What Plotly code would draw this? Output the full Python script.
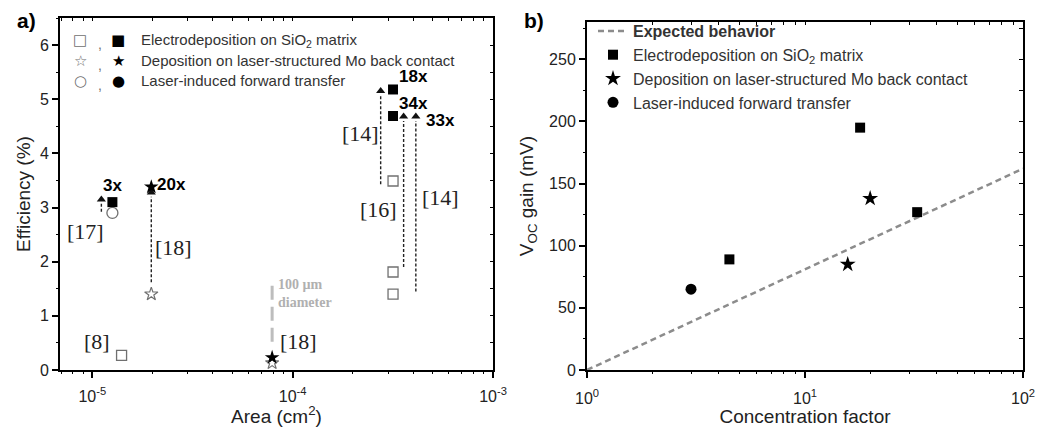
import plotly.graph_objects as go
import numpy as np

# ---------------- Panel a data ----------------
area_sq_filled = [1.26e-5, 3.17e-4, 3.17e-4]
eff_sq_filled = [3.10, 5.18, 4.69]
area_sq_open = [1.40e-5, 3.17e-4, 3.17e-4, 3.17e-4]
eff_sq_open = [0.27, 3.49, 1.81, 1.40]
area_star_filled = [1.97e-5, 7.9e-5]
eff_star_filled = [3.38, 0.23]
area_star_open = [1.97e-5, 7.9e-5]
eff_star_open = [1.40, 0.13]
area_circ_open = [1.26e-5]
eff_circ_open = [2.90]

arrow_x = [1.11e-5, 1.97e-5, 2.75e-4, 3.58e-4, 4.12e-4]
arrow_y0 = [2.92, 1.62, 3.43, 1.90, 1.45]
arrow_y1 = [3.15, 3.28, 5.15, 4.68, 4.68]

gain_labels = ["3x", "20x", "18x", "34x", "33x"]
gain_lab_x = [1.26e-5, 2.05e-5, 3.3e-4, 3.3e-4, 4.55e-4]
gain_lab_y = [3.40, 3.42, 5.42, 4.93, 4.60]
gain_lab_anchor = ["center", "left", "left", "left", "left"]

ref_labels = ["[17]", "[18]", "[8]", "[18]", "[14]", "[16]", "[14]"]
ref_x = [9.2e-6, 2.54e-5, 1.06e-5, 1.07e-4, 2.19e-4, 2.69e-4, 5.5e-4]
ref_y = [2.55, 2.27, 0.52, 0.52, 4.37, 2.97, 3.19]

spot_x = [7.9e-5, 7.9e-5]
spot_y = [0.52, 1.66]

xa_ticks = [1e-5, 1e-4, 1e-3]
xa_ticktext = ["10<sup>-5</sup>", "10<sup>-4</sup>", "10<sup>-3</sup>"]

# ---------------- Panel b data ----------------
expected_c = [1, 100]
expected_gain = [0, 162]
conc_sq = [4.5, 17.9, 32.7]
gain_sq = [89, 195, 127]
conc_star = [15.7, 19.9]
gain_star = [85, 138]
conc_circ = [3.0]
gain_circ = [65]

xb_ticks = [1, 10, 100]
xb_ticktext = ["10<sup>0</sup>", "10<sup>1</sup>", "10<sup>2</sup>"]

# ---------------- figure ----------------
# page body has an 8px default margin: figure drawn at (8, 8)
OFF = 8
W, H = 1050 - OFF, 427 - OFF
def px(x):
    return (x - OFF) / W
def py(y):
    return 1 - (y - OFF) / H

SANS = "Liberation Sans, Arial, sans-serif"
SERIF = "Liberation Serif, Times New Roman, serif"
GRAY = "#707070"

fig = go.Figure()

# panel a traces
fig.add_trace(go.Scatter(x=area_sq_open, y=eff_sq_open, mode="markers", xaxis="x", yaxis="y",
                         marker=dict(symbol="square-open", size=10, color=GRAY, line=dict(width=1.3)),
                         showlegend=False))
fig.add_trace(go.Scatter(x=area_star_open, y=eff_star_open, mode="markers", xaxis="x", yaxis="y",
                         marker=dict(symbol="star-open", size=10, color=GRAY, line=dict(width=1.2)),
                         showlegend=False))
fig.add_trace(go.Scatter(x=area_circ_open, y=eff_circ_open, mode="markers", xaxis="x", yaxis="y",
                         marker=dict(symbol="circle-open", size=11, color=GRAY, line=dict(width=1.3)),
                         showlegend=False))
fig.add_trace(go.Scatter(x=spot_x, y=spot_y, mode="lines", xaxis="x", yaxis="y",
                         line=dict(color="#bdbdbd", width=3, dash="14px,7px"), showlegend=False))
for xv, y0, y1 in zip(arrow_x, arrow_y0, arrow_y1):
    fig.add_trace(go.Scatter(x=[xv, xv], y=[y0, y1 - 0.08], mode="lines", xaxis="x", yaxis="y",
                             line=dict(color="#222", width=1.4, dash="3px,2px"), showlegend=False))
    fig.add_trace(go.Scatter(x=[xv], y=[y1], mode="markers", xaxis="x", yaxis="y",
                             marker=dict(symbol="triangle-up", size=8, color="#111"), showlegend=False))
fig.add_trace(go.Scatter(x=area_sq_filled, y=eff_sq_filled, mode="markers", xaxis="x", yaxis="y",
                         marker=dict(symbol="square", size=10, color="black"), showlegend=False))
fig.add_trace(go.Scatter(x=area_star_filled, y=eff_star_filled, mode="markers", xaxis="x", yaxis="y",
                         marker=dict(symbol="star", size=11, color="black"), showlegend=False))

# panel b traces
fig.add_trace(go.Scatter(x=expected_c, y=expected_gain, mode="lines", xaxis="x2", yaxis="y2",
                         name="<b>Expected behavior</b>", legendgroup="a",
                         line=dict(color="#8c8c8c", width=2.5, dash="6px,4px")))
fig.add_trace(go.Scatter(x=conc_sq, y=gain_sq, mode="markers", xaxis="x2", yaxis="y2",
                         name="Electrodeposition on SiO<sub>2</sub> matrix", legendgroup="b",
                         marker=dict(symbol="square", size=10, color="black")))
fig.add_trace(go.Scatter(x=conc_star, y=gain_star, mode="markers", xaxis="x2", yaxis="y2",
                         name="Deposition on laser-structured Mo back contact", legendgroup="c",
                         marker=dict(symbol="star", size=12, color="black")))
fig.add_trace(go.Scatter(x=conc_circ, y=gain_circ, mode="markers", xaxis="x2", yaxis="y2",
                         name="Laser-induced forward transfer", legendgroup="d",
                         marker=dict(symbol="circle", size=11, color="black")))

dom_ax = [px(60), px(493)]
dom_ay = [py(370), py(18)]
dom_bx = [px(587), px(1023)]
dom_by = [py(370), py(22)]

xa_range = [np.log10(6.9e-6), -3]
ya_range = [0, 6.5]
xb_range = [0, 2]
yb_range = [0, 280]

def log_minor(lo, hi):
    return [m * 10.0 ** d for d in range(lo, hi) for m in range(2, 10)]
def log_all(lo, hi):
    return [m * 10.0 ** d for d in range(lo, hi) for m in range(1, 10)] + [10.0 ** hi]

tickfont = dict(family=SANS, size=16, color="#222")
titlefont = dict(family=SANS, size=19, color="#222")
axline = dict(showline=True, linecolor="black", linewidth=2, showgrid=False, zeroline=False,
              mirror=True, automargin=False)
bare = dict(showline=False, showgrid=False, zeroline=False, showticklabels=False,
            automargin=False, tickcolor="black", tickmode="array")

fig.update_layout(
    width=W, height=H, margin=dict(l=0, r=0, t=0, b=0, autoexpand=False),
    paper_bgcolor="white", plot_bgcolor="white",
    font=dict(family=SANS, color="#222"),
    xaxis=dict(domain=dom_ax, anchor="y", type="log", range=xa_range,
               tickmode="array", tickvals=xa_ticks, ticktext=xa_ticktext, ticks="outside",
               ticklen=6, tickwidth=1.6, tickcolor="black", tickfont=tickfont, ticklabelstandoff=5,
               title=dict(text="Area (cm<sup>2</sup>)", font=titlefont, standoff=2),
               **axline),
    yaxis=dict(domain=dom_ay, anchor="x", range=ya_range, dtick=1, ticks="outside",
               ticklen=6, tickwidth=1.6, tickcolor="black", tickfont=tickfont,
               title=dict(text="Efficiency (%)", font=titlefont, standoff=4),
               **axline),
    xaxis2=dict(domain=dom_bx, anchor="y2", type="log", range=xb_range,
                tickmode="array", tickvals=xb_ticks, ticktext=xb_ticktext, ticks="outside",
                ticklen=6, tickwidth=1.6, tickcolor="black", tickfont=tickfont, ticklabelstandoff=7,
                title=dict(text="Concentration factor", font=titlefont, standoff=4),
                **axline),
    yaxis2=dict(domain=dom_by, anchor="x2", range=yb_range, dtick=50, ticks="outside",
                ticklen=6, tickwidth=1.6, tickcolor="black", tickfont=tickfont,
                title=dict(text="V<sub>OC</sub> gain (mV)", font=titlefont, standoff=10),
                **axline),
    # minor outside ticks (bottom/left) and inward mirrored ticks (top/right)
    xaxis3=dict(overlaying="x", anchor="y", side="bottom", type="log", range=xa_range,
                tickvals=log_minor(-6, -3), ticks="outside", ticklen=3, tickwidth=1.2, **bare),
    yaxis3=dict(overlaying="y", anchor="x", side="left", range=ya_range,
                tickvals=[0.5 + i for i in range(7)], ticks="outside", ticklen=3, tickwidth=1.2, **bare),
    xaxis5=dict(overlaying="x", anchor="y", side="top", type="log", range=xa_range,
                tickvals=log_all(-6, -3), ticks="inside", ticklen=3, tickwidth=1.2, **bare),
    yaxis5=dict(overlaying="y", anchor="x", side="right", range=ya_range,
                tickvals=[0.5 * i for i in range(14)], ticks="inside", ticklen=3, tickwidth=1.2, **bare),
    xaxis4=dict(overlaying="x2", anchor="y2", side="bottom", type="log", range=xb_range,
                tickvals=log_minor(0, 2), ticks="outside", ticklen=3, tickwidth=1.2, **bare),
    yaxis4=dict(overlaying="y2", anchor="x2", side="left", range=yb_range,
                tickvals=[25 + 50 * i for i in range(6)], ticks="outside", ticklen=3, tickwidth=1.2, **bare),
    xaxis6=dict(overlaying="x2", anchor="y2", side="top", type="log", range=xb_range,
                tickvals=log_all(0, 2), ticks="inside", ticklen=3, tickwidth=1.2, **bare),
    yaxis6=dict(overlaying="y2", anchor="x2", side="right", range=yb_range,
                tickvals=[25 * i for i in range(12)], ticks="inside", ticklen=4, tickwidth=1.4, **bare),
    legend=dict(x=px(593), y=py(14), xanchor="left", yanchor="top",
                bgcolor="rgba(0,0,0,0)", font=dict(family=SANS, size=16, color="#333"),
                tracegroupgap=0, itemwidth=30),
)

# empty traces so the tick-only overlay axes are drawn
for xa, ya in [("x3", "y3"), ("x5", "y5"), ("x4", "y4"), ("x6", "y6")]:
    fig.add_trace(go.Scatter(x=[], y=[], xaxis=xa, yaxis=ya, showlegend=False, hoverinfo="skip"))

ann = []
# panel labels
ann.append(dict(text="<b>a)</b>", x=px(15), y=py(20), xref="paper", yref="paper",
                xanchor="left", yanchor="middle", showarrow=False, font=dict(family=SANS, size=21, color="black")))
ann.append(dict(text="<b>b)</b>", x=px(522), y=py(20), xref="paper", yref="paper",
                xanchor="left", yanchor="middle", showarrow=False, font=dict(family=SANS, size=21, color="black")))

# left legend (manual, two symbols per row)
leg_rows = [("□", "■", "Electrodeposition on SiO<sub>2</sub> matrix", 40),
            ("☆", "★", "Deposition on laser-structured Mo back contact", 61),
            ("○", "●", "Laser-induced forward transfer", 81)]
for s_open, s_fill, txt, ypix in leg_rows:
    yp = py(ypix)
    ann.append(dict(text=s_open, x=px(80), y=yp, xref="paper", yref="paper", xanchor="center",
                    yanchor="middle", showarrow=False, font=dict(family="DejaVu Sans", size=15, color=GRAY)))
    ann.append(dict(text=",", x=px(100), y=py(ypix + 4), xref="paper", yref="paper", xanchor="center",
                    yanchor="middle", showarrow=False, font=dict(family=SANS, size=14, color=GRAY)))
    ann.append(dict(text=s_fill, x=px(118), y=yp, xref="paper", yref="paper", xanchor="center",
                    yanchor="middle", showarrow=False, font=dict(family="DejaVu Sans", size=15, color="black")))
    ann.append(dict(text=txt, x=px(139), y=yp, xref="paper", yref="paper", xanchor="left",
                    yanchor="middle", showarrow=False, font=dict(family=SANS, size=15, color="#333")))

# gain labels
for t, xv, yv, anc in zip(gain_labels, gain_lab_x, gain_lab_y, gain_lab_anchor):
    ann.append(dict(text="<b>" + t + "</b>", x=np.log10(xv), y=yv, xref="x", yref="y",
                    xanchor=anc, yanchor="middle", showarrow=False,
                    font=dict(family=SANS, size=17, color="black")))
# reference labels
for t, xv, yv in zip(ref_labels, ref_x, ref_y):
    ann.append(dict(text=t, x=np.log10(xv), y=yv, xref="x", yref="y", xanchor="center",
                    yanchor="middle", showarrow=False, font=dict(family=SERIF, size=22, color="#222")))
# 100 um diameter
ann.append(dict(text="<b>100 µm<br>diameter</b>", x=np.log10(8.3e-5), y=1.42, xref="x", yref="y",
                xanchor="left", yanchor="middle", align="left", showarrow=False,
                font=dict(family=SERIF, size=14, color="#b0b0b0")))

fig.update_layout(annotations=ann)
fig.write_html("out.html")
